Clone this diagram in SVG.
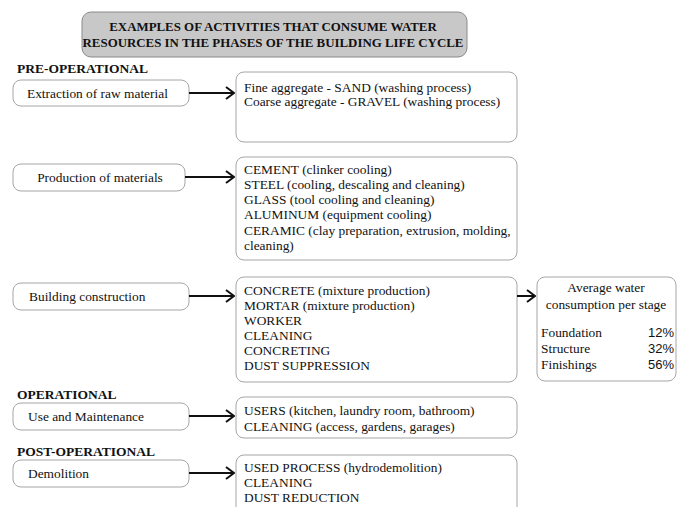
<svg xmlns="http://www.w3.org/2000/svg" width="680" height="507" viewBox="0 0 680 507">
<defs>
<style>
.bx{fill:#fff;stroke:#a6a6a6;stroke-width:1}
.t{font-family:"Liberation Serif","Times New Roman",serif;font-size:13.4px;fill:#111}
.h{font-family:"Liberation Serif","Times New Roman",serif;font-size:13.5px;font-weight:bold;fill:#111}
.tt{font-family:"Liberation Serif","Times New Roman",serif;font-size:12.9px;font-weight:bold;fill:#111}
.s{font-family:"Liberation Sans",Arial,sans-serif;font-size:13px;fill:#111}
.c{stroke:#111;stroke-width:2;fill:none}
</style>
<marker id="ah" viewBox="0 0 10 14" refX="9" refY="7" markerWidth="10" markerHeight="14" markerUnits="userSpaceOnUse" orient="auto">
<path d="M1,1 L9,7 L1,13" fill="none" stroke="#111" stroke-width="2"/>
</marker>
</defs>
<rect width="680" height="507" fill="#fff"/>
<g id="title">
<rect x="82" y="12" width="385" height="45" rx="9" fill="#c8c8c8" stroke="#8a8a8a"/>
<text class="tt" x="273" y="31" text-anchor="middle">EXAMPLES OF ACTIVITIES THAT CONSUME WATER</text>
<text class="tt" x="273" y="46.5" text-anchor="middle">RESOURCES IN THE PHASES OF THE BUILDING LIFE CYCLE</text>
</g>
<g id="sec-pre"><text class="h" x="17" y="73">PRE-OPERATIONAL</text></g>
<g id="sec-op"><text class="h" x="17" y="399">OPERATIONAL</text></g>
<g id="sec-post"><text class="h" x="17" y="456">POST-OPERATIONAL</text></g>

<g id="n-extraction">
<rect class="bx" x="13" y="80" width="176" height="26" rx="8"/>
<text class="t" x="27" y="98">Extraction of raw material</text>
</g>
<g id="n-extraction-items">
<rect class="bx" x="236" y="72" width="281" height="70" rx="8"/>
<text class="t" x="244" y="91.5">Fine aggregate - SAND (washing process)</text>
<text class="t" x="244" y="105.5">Coarse aggregate - GRAVEL (washing process)</text>
</g>

<g id="n-production">
<rect class="bx" x="13" y="164" width="172" height="27" rx="8"/>
<text class="t" x="100" y="182" text-anchor="middle">Production of materials</text>
</g>
<g id="n-production-items">
<rect class="bx" x="236" y="157" width="281" height="103" rx="8"/>
<text class="t" x="244" y="173.5">CEMENT (clinker cooling)</text>
<text class="t" x="244" y="188.8">STEEL (cooling, descaling and cleaning)</text>
<text class="t" x="244" y="204.1">GLASS (tool cooling and cleaning)</text>
<text class="t" x="244" y="219.4">ALUMINUM (equipment cooling)</text>
<text class="t" x="244" y="234.7">CERAMIC (clay preparation, extrusion, molding,</text>
<text class="t" x="244" y="250">cleaning)</text>
</g>

<g id="n-construction">
<rect class="bx" x="13" y="283" width="176" height="27" rx="8"/>
<text class="t" x="29" y="301">Building construction</text>
</g>
<g id="n-construction-items">
<rect class="bx" x="236" y="277" width="281" height="105" rx="8"/>
<text class="t" x="244" y="295">CONCRETE (mixture production)</text>
<text class="t" x="244" y="310">MORTAR (mixture production)</text>
<text class="t" x="244" y="325">WORKER</text>
<text class="t" x="244" y="340">CLEANING</text>
<text class="t" x="244" y="355">CONCRETING</text>
<text class="t" x="244" y="370">DUST SUPPRESSION</text>
</g>
<g id="n-consumption">
<rect class="bx" x="537" y="277" width="139" height="104" rx="8"/>
<text class="t" x="606" y="292" text-anchor="middle">Average water</text>
<text class="t" x="606" y="309" text-anchor="middle">consumption per stage</text>
<text class="t" x="541" y="337">Foundation</text>
<text class="t" x="541" y="353">Structure</text>
<text class="t" x="541" y="369">Finishings</text>
<text class="s" x="674" y="337" text-anchor="end">12%</text>
<text class="s" x="674" y="353" text-anchor="end">32%</text>
<text class="s" x="674" y="369" text-anchor="end">56%</text>
</g>

<g id="n-use">
<rect class="bx" x="13" y="403" width="176" height="27" rx="8"/>
<text class="t" x="28" y="421">Use and Maintenance</text>
</g>
<g id="n-use-items">
<rect class="bx" x="236" y="397" width="281" height="41" rx="8"/>
<text class="t" x="244" y="415">USERS (kitchen, laundry room, bathroom)</text>
<text class="t" x="244" y="431">CLEANING (access, gardens, garages)</text>
</g>

<g id="n-demolition">
<rect class="bx" x="13" y="460" width="176" height="27" rx="8"/>
<text class="t" x="28" y="478">Demolition</text>
</g>
<g id="n-demolition-items">
<rect class="bx" x="236" y="455" width="281" height="62" rx="8"/>
<text class="t" x="244" y="472">USED PROCESS (hydrodemolition)</text>
<text class="t" x="244" y="487">CLEANING</text>
<text class="t" x="244" y="502">DUST REDUCTION</text>
</g>

<g id="connectors">
<line class="c" x1="189" y1="93" x2="234" y2="93" marker-end="url(#ah)"/>
<line class="c" x1="185" y1="177" x2="234" y2="177" marker-end="url(#ah)"/>
<line class="c" x1="189" y1="296" x2="234" y2="296" marker-end="url(#ah)"/>
<line class="c" x1="517" y1="296" x2="535" y2="296" marker-end="url(#ah)"/>
<line class="c" x1="189" y1="416" x2="234" y2="416" marker-end="url(#ah)"/>
<line class="c" x1="189" y1="473" x2="234" y2="473" marker-end="url(#ah)"/>
</g>
</svg>
